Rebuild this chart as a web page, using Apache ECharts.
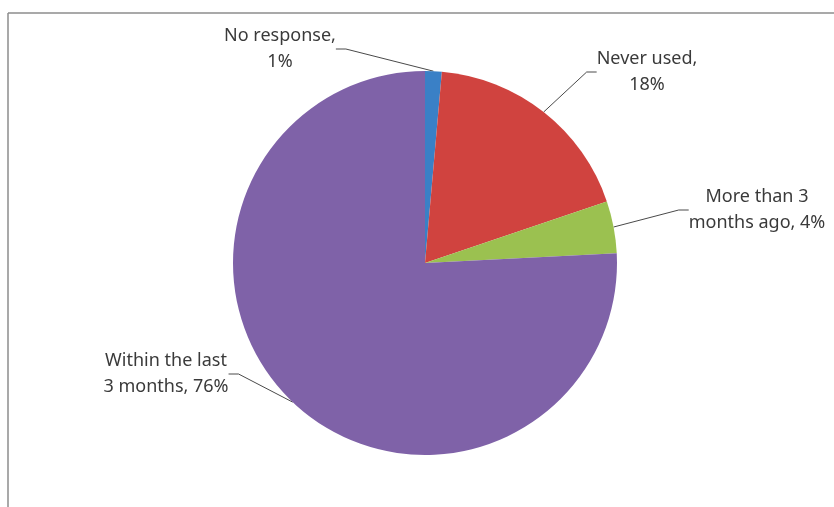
<!DOCTYPE html>
<html>
<head>
<meta charset="utf-8">
<script src="https://cdn.jsdelivr.net/npm/echarts@6/dist/echarts.min.js"></script>
<style>
  html, body { margin: 0; padding: 0; background: #ffffff; }
  #chart { width: 834px; height: 507px; }
</style>
</head>
<body>
<div id="chart"></div>
<script>
// Survey answers: when the service was last used (share of respondents, %)
const categories = ['No response', 'Never used', 'More than 3 months ago', 'Within the last 3 months'];
const shares = [1.4, 18.4, 4.4, 75.8];
// Two-line label templates; {d} is replaced by the rounded percentage
const labelTemplates = [
  'No response,\n{d}%',
  'Never used,\n{d}%',
  'More than 3\nmonths ago, {d}%',
  'Within the last\n3 months, {d}%'
];
const sliceColors = ['#3a80c6', '#d0433f', '#9bc150', '#7f62a8'];
// Where each label block sits (centre of the text block)
const labelSpots = [[280, 49], [647, 72], [757, 210], [166, 374]];

const chart = echarts.init(document.getElementById('chart'), null, { renderer: 'canvas' });

chart.setOption({
  backgroundColor: '#ffffff',
  animation: false,
  graphic: [
    { type: 'line', shape: { x1: 8, y1: 13, x2: 834, y2: 13 }, style: { stroke: '#8c8c8c', lineWidth: 1.5 } },
    { type: 'line', shape: { x1: 8, y1: 13, x2: 8, y2: 507 }, style: { stroke: '#8c8c8c', lineWidth: 1.5 } }
  ],
  series: [{
    type: 'pie',
    center: [425, 263],
    radius: 192,
    startAngle: 90,
    clockwise: true,
    avoidLabelOverlap: false,
    data: categories.map((name, i) => ({
      name,
      value: shares[i],
      itemStyle: { color: sliceColors[i] }
    })),
    itemStyle: { borderWidth: 0 },
    label: {
      show: true,
      position: 'outside',
      formatter: p => labelTemplates[p.dataIndex].replace('{d}', Math.round(p.percent)),
      fontFamily: 'Noto Sans',
      fontSize: 18,
      lineHeight: 26,
      color: '#3a3a3a',
      align: 'center'
    },
    labelLine: {
      show: true,
      length: 10,
      length2: 10,
      lineStyle: { color: '#4a4a4a', width: 1 }
    },
    labelLayout: params => ({
      x: labelSpots[params.dataIndex][0],
      y: labelSpots[params.dataIndex][1],
      align: 'center',
      verticalAlign: 'middle'
    }),
    emphasis: { disabled: true }
  }]
});
</script>
</body>
</html>
